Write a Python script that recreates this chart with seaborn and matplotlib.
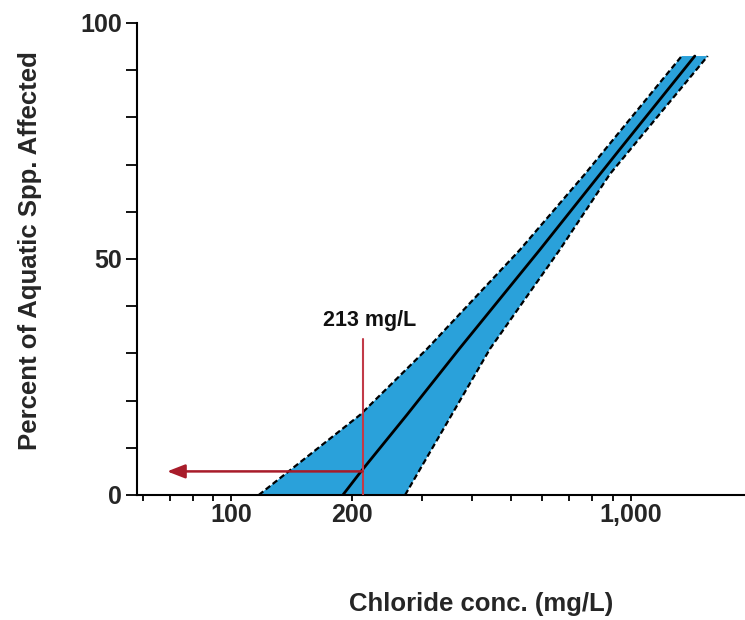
import numpy as np
import pandas as pd
import matplotlib
matplotlib.use("Agg")
import matplotlib.pyplot as plt
from matplotlib.ticker import FixedLocator, NullFormatter, FixedFormatter
import seaborn as sns

# ---- data ----
center_y = [0, 5, 17, 31, 52, 73, 93]
center_x = [190, 211, 275, 372, 592, 933, 1445]

lower_y = [0, 17, 31, 52, 68, 93]          # left (low-concentration) bound
lower_x = [117, 210, 309, 528, 767, 1340]

upper_y = [0, 31, 52, 68, 93]              # right (high-concentration) bound
upper_x = [272, 444, 664, 886, 1557]

threshold_x = 213
threshold_top = 33
threshold_pct = 5
arrow_end_x = 69
threshold_label = "213 mg/L"

x_major = [100, 200, 1000]
x_major_labels = ["100", "200", "1,000"]
x_minor = [60, 70, 80, 90, 300, 400, 500, 600, 700, 800, 900]
y_major = [0, 50, 100]
y_minor = [10, 20, 30, 40, 60, 70, 80, 90]

xlabel = "Chloride conc. (mg/L)"
ylabel = "Percent of Aquatic Spp. Affected"

# ---- styling ----
sns.set_theme(style="white")
plt.rcParams["font.family"] = ["Liberation Sans", "DejaVu Sans"]
plt.rcParams["font.weight"] = "bold"

BLUE = "#2aa1da"
RED_LINE = "#c23a48"
RED_ARROW = "#a81c2a"

fig = plt.figure(figsize=(7.45, 6.2), dpi=100)
ax = fig.add_axes([137 / 745, 1 - 495 / 620, 1 - 137 / 745, (495 - 23) / 620])
ax.set_xscale("log")
ax.set_xlim(58, 1930)
ax.set_ylim(0, 100)

# band
poly_x = list(lower_x) + list(upper_x[::-1])
poly_y = list(lower_y) + list(upper_y[::-1])
ax.fill(poly_x, poly_y, color=BLUE, linewidth=0, zorder=1)

dash = (0, (2.6, 1.4))
sns.lineplot(x=lower_x, y=lower_y, sort=False, color="black", linewidth=1.6,
             linestyle=dash, ax=ax, zorder=3)
sns.lineplot(x=upper_x, y=upper_y, sort=False, color="black", linewidth=1.6,
             linestyle=dash, ax=ax, zorder=3)
sns.lineplot(x=center_x, y=center_y, sort=False, color="black", linewidth=2.0,
             ax=ax, zorder=4)

# threshold markers
ax.plot([threshold_x, threshold_x], [0, threshold_top], color=RED_LINE,
        linewidth=1.5, zorder=5)
ax.annotate("", xy=(arrow_end_x, threshold_pct), xytext=(threshold_x, threshold_pct),
            arrowprops=dict(arrowstyle="-|>,head_length=0.9,head_width=0.35",
                            color=RED_ARROW, linewidth=1.8, shrinkA=0, shrinkB=0),
            zorder=6)
ax.text(threshold_x * 1.04, 37.0, threshold_label, ha="center", va="center",
        fontsize=15.5, fontweight="bold", color="#111111")

# axes cosmetics
for s in ["top", "right"]:
    ax.spines[s].set_visible(False)
for s in ["left", "bottom"]:
    ax.spines[s].set_color("black")
    ax.spines[s].set_linewidth(1.5)

ax.xaxis.set_major_locator(FixedLocator(x_major))
ax.xaxis.set_major_formatter(FixedFormatter(x_major_labels))
ax.xaxis.set_minor_locator(FixedLocator(x_minor))
ax.xaxis.set_minor_formatter(NullFormatter())
ax.yaxis.set_major_locator(FixedLocator(y_major))
ax.yaxis.set_minor_locator(FixedLocator(y_minor))

ax.tick_params(axis="x", which="both", direction="out", length=4, width=1.3,
               color="black", bottom=True, pad=2, labelsize=18)
ax.tick_params(axis="y", which="both", direction="out", length=8, width=1.3,
               color="black", left=True, pad=3, labelsize=18)
for lab in ax.get_xticklabels() + ax.get_yticklabels():
    lab.set_fontweight("bold")

ax.set_xlabel(xlabel, fontsize=18.5, fontweight="bold", va="center", ha="center")
ax.set_ylabel(ylabel, fontsize=18.5, fontweight="bold", va="center", ha="center")
ax.xaxis.set_label_coords((481 - 137) / 608, (495 - 604) / 472)
ax.yaxis.set_label_coords((30 - 137) / 608, (495 - 251) / 472)
ax.grid(False)

fig.savefig("out.png", dpi=100, facecolor="white")
